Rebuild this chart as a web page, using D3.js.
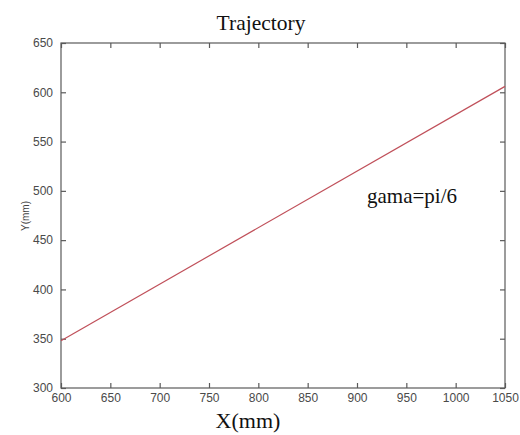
<!DOCTYPE html>
<html>
<head>
<meta charset="utf-8">
<script src="https://cdn.jsdelivr.net/npm/d3@7"></script>
<style>
  html, body { margin: 0; padding: 0; background: #fff; }
  svg { display: block; }
</style>
</head>
<body>
<svg id="chart" width="520" height="435"></svg>
<script>
// Trajectory endpoints (mm)
const trajX = [600, 1050];
const trajY = [348, 606];
const xTicks = [600, 650, 700, 750, 800, 850, 900, 950, 1000, 1050];
const yTicks = [300, 350, 400, 450, 500, 550, 600, 650];
const title = "Trajectory";
const xLabel = "X(mm)";
const yLabel = "Y(mm)";
const note = "gama=pi/6";

const svg = d3.select("#chart");
const m = { left: 61, right: 505, top: 43, bottom: 388 };

const x = d3.scaleLinear().domain([600, 1050]).range([m.left, m.right]);
const y = d3.scaleLinear().domain([300, 650]).range([m.bottom, m.top]);

const axisColor = "#5a5a5a";
const tickFont = "Arial, 'Liberation Sans', sans-serif";
const serif = "'Liberation Serif', 'Times New Roman', serif";
const fmt = d3.format("d");

// Frame
svg.append("rect")
  .attr("x", m.left).attr("y", m.top)
  .attr("width", m.right - m.left).attr("height", m.bottom - m.top)
  .attr("fill", "none").attr("stroke", axisColor).attr("stroke-width", 1.2);

function styleAxis(g, showText) {
  g.select(".domain").remove();
  g.selectAll(".tick line").attr("stroke", axisColor).attr("stroke-width", 1.2);
  g.selectAll(".tick text")
    .attr("fill", "#4a4a4a")
    .style("font-family", tickFont)
    .style("font-size", "12px")
    .style("display", showText ? null : "none");
}

// Bottom axis, ticks pointing inward
svg.append("g").attr("transform", `translate(0,${m.bottom})`)
  .call(d3.axisBottom(x).tickValues(xTicks).tickFormat(fmt).tickSizeInner(-5).tickSizeOuter(0).tickPadding(5))
  .call(g => styleAxis(g, true));

// Top axis (ticks only)
svg.append("g").attr("transform", `translate(0,${m.top})`)
  .call(d3.axisTop(x).tickValues(xTicks).tickFormat(fmt).tickSizeInner(-5).tickSizeOuter(0))
  .call(g => styleAxis(g, false));

// Left axis
svg.append("g").attr("transform", `translate(${m.left},0)`)
  .call(d3.axisLeft(y).tickValues(yTicks).tickFormat(fmt).tickSizeInner(-5).tickSizeOuter(0).tickPadding(8))
  .call(g => styleAxis(g, true));

// Right axis (ticks only)
svg.append("g").attr("transform", `translate(${m.right},0)`)
  .call(d3.axisRight(y).tickValues(yTicks).tickFormat(fmt).tickSizeInner(-5).tickSizeOuter(0))
  .call(g => styleAxis(g, false));

// Trajectory line
const pts = trajX.map((v, i) => [v, trajY[i]]);
svg.append("path")
  .datum(pts)
  .attr("fill", "none")
  .attr("stroke", "#c0505a")
  .attr("stroke-width", 1.2)
  .attr("d", d3.line().x(d => x(d[0])).y(d => y(d[1])));

// Titles and labels
svg.append("text")
  .attr("x", 261).attr("y", 30)
  .attr("text-anchor", "middle")
  .style("font-family", serif)
  .style("font-size", "21.5px")
  .attr("fill", "#111")
  .text(title);

svg.append("text")
  .attr("x", 248).attr("y", 428)
  .attr("text-anchor", "middle")
  .style("font-family", serif)
  .style("font-size", "22px")
  .attr("fill", "#111")
  .text(xLabel);

svg.append("text")
  .attr("transform", "translate(29,216) rotate(-90)")
  .attr("text-anchor", "middle")
  .style("font-family", tickFont)
  .style("font-size", "10px")
  .attr("fill", "#444")
  .text(yLabel);

svg.append("text")
  .attr("x", 367).attr("y", 203)
  .style("font-family", serif)
  .style("font-size", "21px")
  .attr("fill", "#111")
  .text(note);
</script>
</body>
</html>
